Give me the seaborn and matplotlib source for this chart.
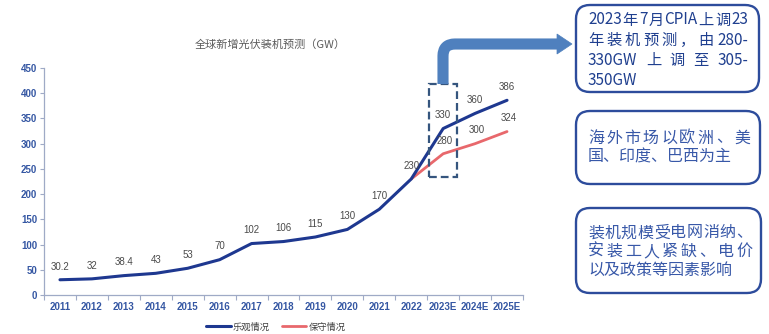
import numpy as np
import pandas as pd
import matplotlib
matplotlib.use("Agg")
import matplotlib.pyplot as plt
import seaborn as sns
from matplotlib.patches import FancyBboxPatch, Rectangle, Polygon, PathPatch
from matplotlib.path import Path
from matplotlib.lines import Line2D
from matplotlib.font_manager import FontProperties

# ---- data -------------------------------------------------------------
years = ["2011", "2012", "2013", "2014", "2015", "2016", "2017", "2018",
         "2019", "2020", "2021", "2022", "2023E", "2024E", "2025E"]
optimistic = [30.2, 32, 38.4, 43, 53, 70, 102, 106, 115, 130, 170, 230, 330, 360, 386]
conservative_years = ["2022", "2023E", "2024E", "2025E"]
conservative = [230, 280, 300, 324]
conservative_labelled = ["2023E", "2024E", "2025E"]
yticks = list(range(0, 451, 50))

title = "全球新增光伏装机预测（GW）"
series_names = ["乐观情况", "保守情况"]
note1 = ["2023年7月CPIA上调23", "年装机预测，由280-", "330GW上调至305-", "350GW"]
note2 = ["海外市场以欧洲、美", "国、印度、巴西为主"]
note3 = ["装机规模受电网消纳、", "安装工人紧缺、电价", "以及政策等因素影响"]

# ---- style ------------------------------------------------------------
NAVY = "#1E3890"
RED = "#E8686C"
TICK_BLUE = "#3557A3"
SPINE = "#9FAAC6"
LABEL_GRAY = "#4A4A4A"
ARROW = "#4F80BE"
BOX_EDGE = "#2D4C9C"
CJK = ["Noto Sans CJK SC", "DejaVu Sans"]

sns.set_style("white")
plt.rcParams["font.family"] = CJK

W, H = 769, 334
fig = plt.figure(figsize=(W / 100, H / 100), dpi=100)
fig.patch.set_facecolor("white")


def fx(x):
    return x / W


def fy(y):
    return 1 - y / H


ax = fig.add_axes([fx(44), fy(295), (523 - 44) / W, (295 - 68) / H])

pos = {y: i for i, y in enumerate(years)}
df_opt = pd.DataFrame({"pos": [pos[y] for y in years], "value": optimistic})
df_con = pd.DataFrame({"pos": [pos[y] for y in conservative_years], "value": conservative})

sns.lineplot(data=df_con, x="pos", y="value", color=RED, lw=2.0, ax=ax, legend=False)
sns.lineplot(data=df_opt, x="pos", y="value", color=NAVY, lw=2.2, ax=ax, legend=False)

# value labels above points
for x, v in zip(df_opt["pos"], df_opt["value"]):
    ax.annotate(f"{v:g}", (x, v), xytext=(0, 9.5), textcoords="offset points",
                ha="center", va="center", fontsize=7, color=LABEL_GRAY,
                family=["Liberation Sans", "DejaVu Sans"])
for y, v in zip(conservative_years, conservative):
    if y in conservative_labelled:
        ax.annotate(f"{v:g}", (pos[y], v), xytext=(1, 9.5), textcoords="offset points",
                    ha="center", va="center", fontsize=7, color=LABEL_GRAY,
                    family=["Liberation Sans", "DejaVu Sans"])

ax.set_xlim(-0.5, len(years) - 0.5)
ax.set_ylim(0, 450)
ax.set_yticks(yticks)
ax.set_xticks(range(len(years)))
ax.set_xticklabels(years)
ax.set_xticks(np.arange(-0.5, len(years), 1.0), minor=True)
ax.set_xlabel("")
ax.set_ylabel("")
for lab in ax.get_xticklabels() + ax.get_yticklabels():
    lab.set_family(["Liberation Sans", "DejaVu Sans"])
    lab.set_fontweight("bold")
ax.tick_params(axis="x", which="major", length=0, pad=5, labelsize=7, labelcolor=TICK_BLUE)
ax.tick_params(axis="x", which="minor", length=3.5, color=SPINE, width=0.8, bottom=True)
ax.tick_params(axis="y", length=3, color=SPINE, width=0.8, pad=2, labelsize=7,
               labelcolor=TICK_BLUE, left=True)
for s in ["top", "right"]:
    ax.spines[s].set_visible(False)
for s in ["left", "bottom"]:
    ax.spines[s].set_color(SPINE)
    ax.spines[s].set_linewidth(0.9)
ax.grid(False)

# title
fig.text(fx(270), fy(45), title, ha="center", va="center", fontsize=8, color="#5A5A5A")

# legend
handles = [Line2D([], [], color=NAVY, lw=2.2), Line2D([], [], color=RED, lw=2.0)]
fig.legend(handles, series_names, loc="center", bbox_to_anchor=(fx(276), fy(327)),
           ncol=2, frameon=False, fontsize=6.7, handlelength=2.6, handletextpad=0.25,
           columnspacing=1.3, labelcolor="#404040")

# dashed box around the 2023E forecast
fig.add_artist(Rectangle((fx(429), fy(177)), 28 / W, 93 / H, transform=fig.transFigure,
                         fill=False, ec="#35557E", lw=1.6, ls=(0, (3.5, 1.8))))

# bent arrow pointing to the first note
r = 12
verts = [(443, 84), (443, 44 + r), (443, 44), (443 + r, 44), (558, 44)]
codes = [Path.MOVETO, Path.LINETO, Path.CURVE3, Path.CURVE3, Path.LINETO]
arrow_path = Path([(fx(a), fy(b)) for a, b in verts], codes)
fig.add_artist(PathPatch(arrow_path, transform=fig.transFigure, fill=False,
                         ec=ARROW, lw=8.0, capstyle="butt", joinstyle="round"))
fig.add_artist(Polygon([(fx(557), fy(34)), (fx(572), fy(44)), (fx(557), fy(54))],
                       closed=True, transform=fig.transFigure, fc=ARROW, ec=ARROW, lw=0.5))


# rounded note boxes
def note_box(x0, y0, x1, y1):
    fig.add_artist(FancyBboxPatch((fx(x0), fy(y1)), (x1 - x0) / W, (y1 - y0) / H,
                                  boxstyle=f"round,pad=0,rounding_size={14 / W}",
                                  transform=fig.transFigure, fc="white", ec=BOX_EDGE,
                                  lw=1.7, mutation_aspect=W / H))


note_box(576, 5, 759, 92)
note_box(576, 111, 760, 184)
note_box(576, 208, 761, 293)

renderer = fig.canvas.get_renderer()


def tokens(line):
    toks, buf = [], ""
    for ch in line:
        if ch == " ":
            if buf:
                toks.append(buf)
                buf = ""
        elif ord(ch) < 128:
            buf += ch
        else:
            if buf:
                toks.append(buf)
                buf = ""
            toks.append(ch)
    if buf:
        toks.append(buf)
    return toks


def text_block(lines, x0, x1, y_first, line_h, size, color):
    prop = FontProperties(family=CJK, size=size)
    for i, line in enumerate(lines):
        y = y_first + i * line_h
        if i == len(lines) - 1:
            fig.text(fx(x0), fy(y), line, ha="left", va="center",
                     fontproperties=prop, color=color)
            continue
        toks = tokens(line)
        widths = [renderer.get_text_width_height_descent(t, prop, ismath=False)[0]
                  for t in toks]
        gap = (x1 - x0 - sum(widths)) / max(len(toks) - 1, 1)
        x = x0
        for t, w in zip(toks, widths):
            fig.text(fx(x), fy(y), t, ha="left", va="center",
                     fontproperties=prop, color=color)
            x += w + gap


text_block(note1, 588, 748, 20, 20.3, 11, "#1F3F8F")
text_block(note2, 588, 750, 138, 19, 11.5, "#3858A8")
text_block(note3, 588, 752, 233, 18.5, 11.5, "#3858A8")

fig.savefig("out.png", dpi=100, facecolor="white")
